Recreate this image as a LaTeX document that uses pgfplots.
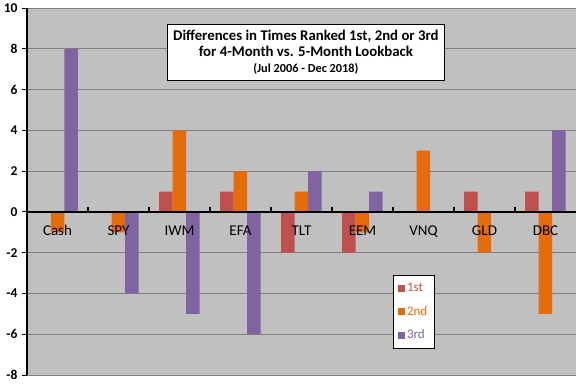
\documentclass[border=0pt]{standalone}
\usepackage{pgfplots}
\pgfplotsset{compat=1.18}
\usepackage{fontspec}
\setmainfont{Carlito}
\definecolor{bgc}{HTML}{C0C0C0}
\definecolor{gridc}{HTML}{808080}
\definecolor{c1}{HTML}{C0504D}
\definecolor{c2}{HTML}{E46C0A}
\definecolor{c3}{HTML}{8064A2}
\begin{document}
\begin{tikzpicture}[x=1pt,y=1pt]
\useasboundingbox[fill=white] (0,0) rectangle (576,384);
\begin{axis}[
  at={(27pt,9pt)}, anchor=south west,
  scale only axis, width=549pt, height=367pt,
  xmin=-0.5, xmax=8.5, ymin=-8, ymax=10,
  ytick={-8,-6,...,10},
  xtick=\empty,
  axis x line=none,
  axis y line*=left,
  y axis line style={line width=1.5pt, black},
  tick align=outside,
  major tick length=5pt,
  ytick style={black, line width=1pt},
  ymajorgrids,
  grid style={gridc, line width=1pt},
  axis background/.style={fill=bgc},
  /pgf/number format/assume math mode=true,
  yticklabel style={font=\bfseries\fontsize{13.5}{13.5}\selectfont, xshift=-1pt},
  sq legend/.style={legend image code/.code={\fill[##1,draw=none] (0pt,-3.5pt) rectangle (7pt,3.5pt);}},
  legend style={at={(rel axis cs:0.666,0.272)}, anchor=north west, draw=black, line width=0.8pt, fill=white,
    font=\fontsize{13}{14}\selectfont, row sep=9pt, inner xsep=5pt, inner ysep=6pt,
    /tikz/every even column/.append style={column sep=2pt}},
  legend cell align=left,
]
\addplot[ybar, fill=c1, draw=none, bar width=13.5pt, bar shift=-13.5pt, sq legend] coordinates {(0,0) (1,0) (2,1) (3,1) (4,-2) (5,-2) (6,0) (7,1) (8,1)};
\addlegendentry{\textcolor{c1}{1st}}
\addplot[ybar, fill=c2, draw=none, bar width=13.5pt, bar shift=0pt, sq legend] coordinates {(0,-1) (1,-1) (2,4) (3,2) (4,1) (5,-1) (6,3) (7,-2) (8,-5)};
\addlegendentry{\textcolor{c2}{2nd}}
\addplot[ybar, fill=c3, draw=none, bar width=13.5pt, bar shift=13.5pt, sq legend] coordinates {(0,8) (1,-4) (2,-5) (3,-6) (4,2) (5,1) (6,0) (7,0) (8,4)};
\addlegendentry{\textcolor{c3}{3rd}}
\draw[black, line width=1.8pt] (axis cs:-0.5,0) -- (axis cs:8.5,0);
\pgfplotsinvokeforeach{0.5,1.5,2.5,3.5,4.5,5.5,6.5,7.5}{
  \draw[black, line width=1.2pt] (axis cs:#1,0) -- (axis cs:#1,0.25);
}
\begin{scope}[every node/.style={anchor=base, font=\fontsize{15}{15}\selectfont, inner sep=0pt}]
\node at (axis cs:0,0) [yshift=-24pt] {Cash};
\node at (axis cs:1,0) [yshift=-24pt] {SPY};
\node at (axis cs:2,0) [yshift=-24pt] {IWM};
\node at (axis cs:3,0) [yshift=-24pt] {EFA};
\node at (axis cs:4,0) [yshift=-24pt] {TLT};
\node at (axis cs:5,0) [yshift=-24pt] {EEM};
\node at (axis cs:6,0) [yshift=-24pt] {VNQ};
\node at (axis cs:7,0) [yshift=-24pt] {GLD};
\node at (axis cs:8,0) [yshift=-24pt] {DBC};
\end{scope}
\node[draw=black, line width=0.8pt, fill=white, align=center, minimum width=277pt, minimum height=56pt, inner sep=2pt, font=\bfseries]
  at (rel axis cs:0.508,0.880)
  {\fontsize{14.8}{18}\selectfont Differences in Times Ranked 1st, 2nd or 3rd\\[2.5pt]
   \fontsize{14.8}{18}\selectfont for 4-Month vs. 5-Month Lookback\\[3.5pt]
   \fontsize{12.3}{19}\selectfont (Jul 2006 - Dec 2018)};
\end{axis}
\end{tikzpicture}
\end{document}
